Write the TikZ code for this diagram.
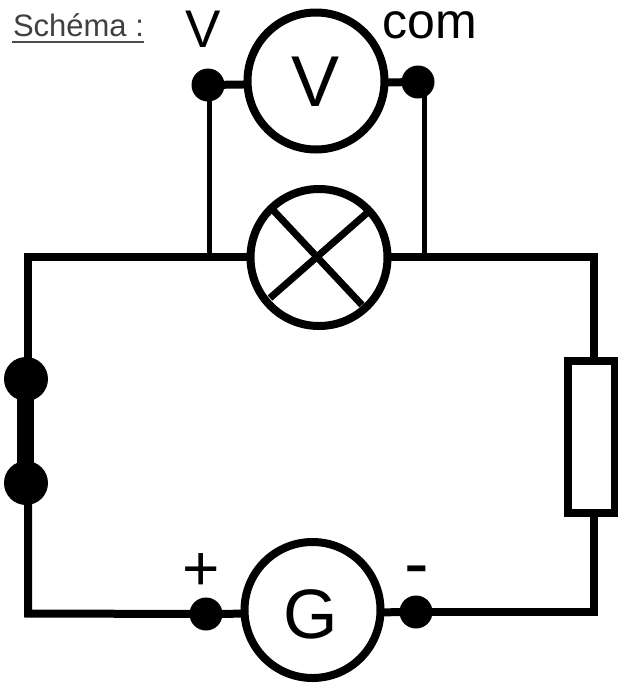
\documentclass[tikz,border=0pt]{standalone}
\usepackage{fontspec}
\setmainfont{Liberation Sans}
\tikzset{
  wire/.style={line width=8pt,black,line join=miter},
  thinwire/.style={line width=5pt,black},
  comp/.style={circle,draw=black,line width=8pt,fill=white,minimum size=#1,inner sep=0pt,outer sep=0pt},
  term/.style={circle,fill=black,minimum size=#1,inner sep=0pt,outer sep=0pt},
  lab/.style={inner sep=0pt,outer sep=0pt,text=black}
}
\begin{document}
\begin{tikzpicture}[x=1pt,y=-1pt]
\useasboundingbox (0,0) rectangle (618,683);
\fill[white] (0,0) rectangle (618,683);
% coordinates
\coordinate (tl) at (28,257);
\coordinate (tr) at (593.5,257);
\coordinate (bl) at (28,613.5);
\coordinate (br) at (593.5,612);
\coordinate (j1) at (209,257);
\coordinate (j2) at (424,257);
\coordinate (vcd) at (424,84);
\coordinate (lc1) at (273,210);
\coordinate (lc2) at (362,305);
\coordinate (lc3) at (367,213);
\coordinate (lc4) at (270,298);
% nodes
\node[term=33pt] (vp) at (208,85) {};
\node[term=33pt] (vc) at (418,82) {};
\node[term=33pt] (gp) at (206,614) {};
\node[term=33pt] (gm) at (416,612) {};
\node[term=44pt] (s1) at (26,379) {};
\node[term=44pt] (s2) at (26,483) {};
% wires
\draw[wire] (tl |- s1) -- (tl) -- (j1) -- (j2) -- (tr) -- (tr |- 0,361);
\draw[wire] (br |- 0,512) -- (br) -- (gm.center);
\draw[wire] (gm.center) -- (gp.center);
\draw[wire] (gp.center) -- (bl) -- (bl |- s2);
\draw[line width=17pt] (25.5,379) -- (25.5,483);
\draw[thinwire] (209,85) -- (j1);
\draw[thinwire] (vcd) -- (j2);
\draw[wire] (vp.center) -- (vc.center);
% components
\node[comp=137pt] (lamp) at (319,257.5) {};
\draw[line width=7pt] (lc1) -- (lc2);
\draw[line width=7pt] (lc3) -- (lc4);
\node[comp=137pt] (volt) at (316,81) {};
\node[lab,font=\fontsize{72}{72}\selectfont] (vt) at (315.5,82) {V};
\node[comp=136pt] (gen) at (312.5,610) {};
\node[lab,font=\fontsize{70}{70}\selectfont] (gt) at (311,614) {G};
\node[draw=black,line width=8pt,fill=white,minimum width=47pt,minimum height=152pt,inner sep=0pt] (res) at (591,437) {};
% labels
\node[lab,font=\fontsize{31}{31}\selectfont,anchor=base west,text=black!75] (sch) at (13,36.5) {Sch\'ema :};
\draw[line width=2pt,black!70] (12,42) -- (144,42);
\node[lab,font=\fontsize{53}{53}\selectfont,anchor=base] (lv) at (203,47) {V};
\node[lab,font=\fontsize{50}{50}\selectfont,anchor=base] (lc) at (430,38) {com};
\node[lab,font=\fontsize{64}{64}\selectfont,anchor=base] (lp) at (201.5,590) {+};
\node[lab,font=\fontsize{74}{74}\selectfont,anchor=base] (lm) at (417,588) {-};
\end{tikzpicture}
\end{document}
